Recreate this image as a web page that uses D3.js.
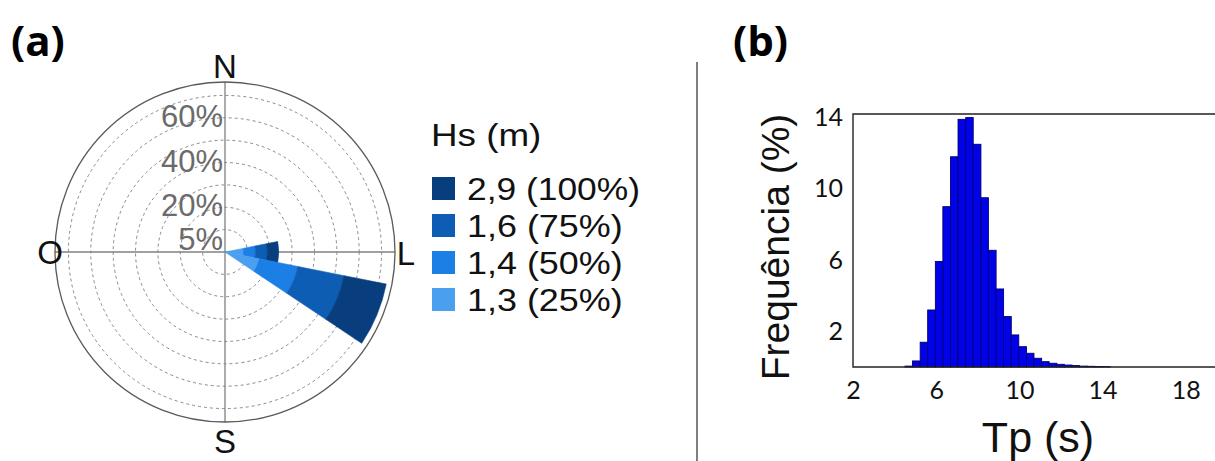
<!DOCTYPE html>
<html>
<head>
<meta charset="utf-8">
<script src="https://cdn.jsdelivr.net/npm/d3@7"></script>
<style>
  html, body { margin: 0; padding: 0; background: #fff; }
  svg { display: block; }
</style>
</head>
<body>
<svg id="fig" width="1215" height="461"></svg>
<script>
// ---- Wave rose (a): frequency (%) per direction, stacked by Hs class ----
const hsClasses   = ["1,3 (25%)", "1,4 (50%)", "1,6 (75%)", "2,9 (100%)"]; // inner -> outer
const hsColors    = ["#4aa0ef", "#1b7fe6", "#0d5db4", "#093e7e"];
const directions  = ["L", "ESE"];
const bearings    = [90, 112.5];
const freqL       = [8.3, 5.3, 5.3, 5.1];
const freqESE     = [15.6, 17.6, 21.0, 19.3];
const ringValues  = [10, 20, 30, 40, 50, 60, 70];
const ringLabels  = [5, 20, 40, 60];
const compass     = [["N", 0], ["L", 90], ["S", 180], ["O", 270]];

// ---- Histogram (b): Tp distribution ----
const tpEdges = [4.50, 4.86, 5.23, 5.59, 5.96, 6.32, 6.69, 7.05, 7.42, 7.78, 8.15, 8.51,
                 8.88, 9.24, 9.61, 9.97, 10.34, 10.70, 11.07, 11.43, 11.80, 12.16, 12.53,
                 12.89, 13.26, 13.62, 13.99, 14.36];
const tpFreq  = [0.05, 0.34, 1.39, 3.2, 5.92, 9.0, 11.8, 13.9, 14.0, 12.5, 9.5, 6.55,
                 4.38, 2.83, 1.8, 1.14, 0.77, 0.49, 0.3, 0.21, 0.15, 0.11, 0.08, 0.05,
                 0.04, 0.03, 0.02];
const xTicks  = [2, 6, 10, 14, 18];
const yTicks  = [2, 6, 10, 14];

const svg = d3.select("#fig");

// ================= Panel (a) =================
const cx = 225, cy = 252;
const r = d3.scaleLinear().domain([0, 76]).range([0, 170]);
const gA = svg.append("g").attr("transform", `translate(${cx},${cy})`);

// dashed rings
gA.selectAll("circle.ring").data(ringValues).join("circle")
  .attr("class", "ring").attr("r", d => r(d))
  .attr("fill", "none").attr("stroke", "#8a8a8a")
  .attr("stroke-width", 1).attr("stroke-dasharray", "3,3");

// cross axes
const R = r(76);
gA.append("line").attr("x1", 0).attr("x2", 0).attr("y1", -R).attr("y2", R)
  .attr("stroke", "#808080").attr("stroke-width", 1.3);
gA.append("line").attr("x1", -R).attr("x2", R).attr("y1", 0).attr("y2", 0)
  .attr("stroke", "#808080").attr("stroke-width", 1.3);

// outer circle
gA.append("circle").attr("r", R).attr("fill", "none")
  .attr("stroke", "#5a5a5a").attr("stroke-width", 1.3);

// ring labels
gA.selectAll("text.rl").data(ringLabels).join("text")
  .attr("class", "rl")
  .attr("x", -2).attr("y", d => -r(d) + 9)
  .attr("text-anchor", "end")
  .attr("font-family", "Liberation Sans, Arial, sans-serif")
  .attr("font-size", 31).attr("fill", "#6b6b6b")
  .text(d => d + "%");

// stacked wedges
const arc = d3.arc();
const sectorHalf = 11.25 * Math.PI / 180;
function stackSector(vals, bearing) {
  let acc = 0;
  return vals.map((v, i) => {
    const seg = { inner: acc, outer: acc + v, color: hsColors[i], bearing };
    acc += v;
    return seg;
  });
}
const segs = [...stackSector(freqL, bearings[0]), ...stackSector(freqESE, bearings[1])];
gA.selectAll("path.seg").data(segs).join("path")
  .attr("class", "seg")
  .attr("d", d => {
    const a = d.bearing * Math.PI / 180;
    return arc({ innerRadius: r(d.inner), outerRadius: r(d.outer),
                 startAngle: a - sectorHalf, endAngle: a + sectorHalf });
  })
  .attr("fill", d => d.color)
  .attr("stroke", d => d.color).attr("stroke-width", 0.6);

// compass letters
const compassPos = { N: [0, -174], S: [0, 201], O: [-175, 12], L: [181, 13] };
gA.selectAll("text.cp").data(compass).join("text")
  .attr("class", "cp")
  .attr("x", d => compassPos[d[0]][0]).attr("y", d => compassPos[d[0]][1])
  .attr("text-anchor", "middle")
  .attr("font-family", "Liberation Sans, Arial, sans-serif")
  .attr("font-size", 33).attr("fill", "#111")
  .text(d => d[0]);

// legend
const gL = svg.append("g").attr("transform", "translate(431,0)");
gL.append("text").attr("x", 0).attr("y", 146)
  .attr("font-family", "Liberation Sans, Arial, sans-serif")
  .attr("font-size", 32).attr("fill", "#111")
  .attr("transform", "scale(1.15,1)")
  .text("Hs (m)");
const legendRows = hsClasses.map((t, i) => ({ t, c: hsColors[i] })).reverse();
const row = gL.selectAll("g.row").data(legendRows).join("g")
  .attr("class", "row")
  .attr("transform", (d, i) => `translate(0,${177 + i * 37})`);
row.append("rect").attr("x", 1).attr("y", 0).attr("width", 23).attr("height", 23)
  .attr("fill", d => d.c);
row.append("text").attr("x", 36).attr("y", 23)
  .attr("font-family", "Liberation Sans, Arial, sans-serif")
  .attr("font-size", 32).attr("fill", "#111")
  .attr("textLength", d => d.t.length * 17.3)
  .attr("lengthAdjust", "spacingAndGlyphs")
  .text(d => d.t);

// panel letters
svg.append("text").attr("x", 11).attr("y", 56)
  .attr("font-family", "Open Sans, sans-serif").attr("font-weight", "bold")
  .attr("font-size", 42).attr("fill", "#000").text("(a)");
svg.append("text").attr("x", 733).attr("y", 56)
  .attr("font-family", "Open Sans, sans-serif").attr("font-weight", "bold")
  .attr("font-size", 42).attr("fill", "#000").text("(b)");

// divider
svg.append("line").attr("x1", 697).attr("x2", 697).attr("y1", 62).attr("y2", 461)
  .attr("stroke", "#555").attr("stroke-width", 1.5);

// ================= Panel (b) =================
const x = d3.scaleLinear().domain([2, 22]).range([853, 1269]);
const y = d3.scaleLinear().domain([0, 14.2]).range([367, 114]);

const bins = tpFreq.map((f, i) => ({ x0: tpEdges[i], x1: tpEdges[i + 1], f }));
svg.append("g").selectAll("rect").data(bins).join("rect")
  .attr("x", d => x(d.x0)).attr("width", d => x(d.x1) - x(d.x0))
  .attr("y", d => y(d.f)).attr("height", d => y(0) - y(d.f))
  .attr("fill", "#0202e8").attr("stroke", "#000070").attr("stroke-width", 0.9);

// frame (left, top, bottom)
svg.append("path")
  .attr("d", `M${x(22)},${y(14.2)} H${x(2)} V${y(0)} H${x(22)}`)
  .attr("fill", "none").attr("stroke", "#222").attr("stroke-width", 1.4);

// tick labels
const xAxis = d3.axisBottom(x).tickValues(xTicks).tickSize(0).tickPadding(14);
const gx = svg.append("g").attr("transform", `translate(0,${y(0)})`).call(xAxis);
gx.select(".domain").remove();
gx.selectAll("text").attr("font-family", "Lato, sans-serif").attr("font-size", 25)
  .attr("fill", "#111");

const yAxis = d3.axisLeft(y).tickValues(yTicks).tickSize(0).tickPadding(10);
const gy = svg.append("g").attr("transform", `translate(${x(2)},0)`).call(yAxis);
gy.select(".domain").remove();
gy.selectAll("text").attr("font-family", "Lato, sans-serif").attr("font-size", 25)
  .attr("fill", "#111");

// axis titles
svg.append("text")
  .attr("transform", "translate(789,247) rotate(-90)")
  .attr("text-anchor", "middle")
  .attr("font-family", "Liberation Sans, Arial, sans-serif")
  .attr("font-size", 39).attr("fill", "#111")
  .text("Frequência (%)");
svg.append("text").attr("x", 1038).attr("y", 452)
  .attr("text-anchor", "middle")
  .attr("font-family", "Liberation Sans, Arial, sans-serif")
  .attr("font-size", 43).attr("fill", "#111")
  .text("Tp (s)");
</script>
</body>
</html>
